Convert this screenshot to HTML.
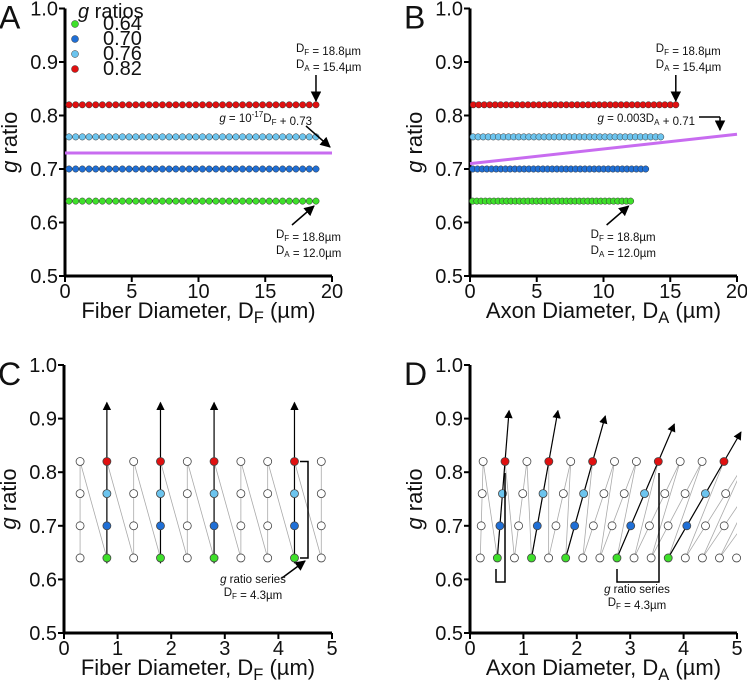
<!DOCTYPE html>
<html><head><meta charset="utf-8"><style>
body{margin:0;background:#fff;}
svg{display:block;font-family:"Liberation Sans",Arial,sans-serif;}
.tk{font-size:20px;fill:#111;}
.tt{font-size:22px;fill:#111;}
.an{font-size:11.5px;fill:#111;}
.pl{font-size:32px;fill:#111;}
</style></head><body>
<svg id="fig" width="747" height="680" viewBox="0 0 747 680">
<defs><marker id="ah" viewBox="0 0 10 10" refX="9" refY="5" markerWidth="7" markerHeight="7" orient="auto"><path d="M0,0L10,5L0,10z" fill="#000"/></marker></defs>
</svg>
<script>
const gRatios=[0.64,0.70,0.76,0.82];
const gColors=['#3ee02a','#1f6fd6','#6cc4ee','#e01010'];
const fiberDiams=[0.3,0.8,1.3,1.8,2.3,2.8,3.3,3.8,4.3,4.8,5.3,5.8,6.3,6.8,7.3,7.8,8.3,8.8,9.3,9.8,10.3,10.8,11.3,11.8,12.3,12.8,13.3,13.8,14.3,14.8,15.3,15.8,16.3,16.8,17.3,17.8,18.3,18.8];
const fitA=[0.73,0.73];
const fitB=[0.71,0.765];
const zoomDiamsC=[0.3,0.8,1.3,1.8,2.3,2.8,3.3,3.8,4.3,4.8];
const coloredC=[0.8,1.8,2.8,4.3];
const zoomDiamsD=[0.3,0.8,1.3,1.8,2.3,2.8,3.3,3.8,4.3,4.8,5.3,5.8,6.3,6.8,7.3,7.8];
const coloredD=[0.8,1.8,2.8,4.3,5.8];
const arrowEndD=[0.915,0.915,0.905,0.89,0.875];
const yTicks=[0.5,0.6,0.7,0.8,0.9,1.0];
const xTicksBig=[0,5,10,15,20];
const xTicksSmall=[0,1,2,3,4,5];

const svg=document.getElementById('fig');
const NS='http://www.w3.org/2000/svg';
function mk(tag,attrs,parent){const e=document.createElementNS(NS,tag);for(const k in attrs)e.setAttribute(k,attrs[k]);(parent||svg).appendChild(e);return e;}
function txt(x,y,s,cls,anchor,parent){const t=mk('text',{x:x,y:y,class:cls,'text-anchor':anchor||'start'},parent);t.innerHTML=s;return t;}

function panel(name,letter,x0,x1,y0,y1,xmax,xTicks,xTitle){
  const g=mk('g',{});
  
  
  const sx=v=>x0+(x1-x0)*v/xmax;
  const sy=v=>y0+(y1-y0)*(v-0.5)/0.5;
  const ax=mk('path',{d:`M${x0},${y1}V${y0}M${x0},${y0}H${x1}`,stroke:'#000','stroke-width':3,fill:'none'},g);
  
  
  yTicks.forEach(v=>{mk('line',{x1:x0-6,x2:x0,y1:sy(v),y2:sy(v),stroke:'#000','stroke-width':2},g);
    const t=txt(x0-7,sy(v)+7,v.toFixed(1),'tk','end',g);
    
    });
  xTicks.forEach(v=>{mk('line',{x1:sx(v),x2:sx(v),y1:y0,y2:y0+6,stroke:'#000','stroke-width':2},g);
    const t=txt(sx(v),y0+22,String(v),'tk','middle',g);
    
    });
  const xt=txt((x0+x1)/2,y0+42,xTitle,'tt','middle',g);
  
  
  const yt=txt(0,0,'<tspan font-style="italic">g</tspan> ratio','tt','middle',g);
  yt.setAttribute('transform',`translate(${x0-48},${(y0+y1)/2}) rotate(-90)`);
  
  
  const pl=txt(x0-66,y1+20,letter,'pl','start',g);
  
  
  return {g,sx,sy};
}
const sub=s=>`<tspan font-size="70%" dy="3">${s}</tspan><tspan dy="-3"></tspan>`;
const titleF='Fiber Diameter, D'+`<tspan font-size="75%" dy="5">F</tspan><tspan dy="-5"> (µm)</tspan>`;
const titleA='Axon Diameter, D'+`<tspan font-size="75%" dy="5">A</tspan><tspan dy="-5"> (µm)</tspan>`;

function arrow(p,x1,y1,x2,y2,w){const l=mk('line',{x1,y1,x2,y2,stroke:'#000','stroke-width':w||1.5,'marker-end':'url(#ah)'},p.g);return l;}

[['a','A',65,332,titleF,false,fitA],['b','B',470,737,titleA,true,fitB]].forEach(([n,L,x0,x1,tt,isAxon,fit])=>{
  const p=panel(n,L,x0,x1,276,8.5,20,xTicksBig,tt);
  const fl=mk('line',{x1:p.sx(0),y1:p.sy(fit[0]),x2:p.sx(20),y2:p.sy(fit[1]),stroke:'#c86cf0','stroke-width':3},p.g);
  
  
  gRatios.forEach((gr,i)=>{fiberDiams.forEach(d=>{
    const c=mk('circle',{cx:p.sx(isAxon?d*gr:d),cy:p.sy(gr),r:3.2,fill:gColors[i],stroke:'#333','stroke-width':0.5},p.g);
    
    });});
  const last=fiberDiams[fiberDiams.length-1];
  const xr=p.sx(isAxon?last*0.82:last), xg=p.sx(isAxon?last*0.64:last);
  txt(xr-20,52,'D'+sub('F')+' = 18.8µm','an','start',p.g);
  txt(xr-20,68,'D'+sub('A')+' = 15.4µm','an','start',p.g);
  arrow(p,xr,75,xr,101,1.5);
  arrow(p,xg-24,225,xg-2,206,1.5);
  txt(xg-40,238,'D'+sub('F')+' = 18.8µm','an','start',p.g);
  txt(xg-40,254,'D'+sub('A')+' = 12.0µm','an','start',p.g);
  if(!isAxon){
    txt(312,122,'<tspan font-style="italic">g</tspan> = 10<tspan font-size="70%" dy="-5">-17</tspan><tspan dy="5">D</tspan>'+sub('F')+' + 0.73','an','end',p.g);
    arrow(p,306,126,330,147,1.5);
  } else {
    txt(695,122,'<tspan font-style="italic">g</tspan> = 0.003D'+sub('A')+' + 0.71','an','end',p.g);
    mk('path',{d:'M699,117H720',stroke:'#000','stroke-width':1.5,fill:'none'},p.g);
    arrow(p,720,117,720,130,1.5);
  }
  if(!isAxon){
    const lg=mk('g',{},p.g);
    
    
    txt(78,18,'<tspan font-style="italic">g</tspan> ratios','tk','start',lg).setAttribute('font-size','15');
    gRatios.forEach((gr,i)=>{
      const c=mk('circle',{cx:75,cy:24+i*15,r:3.5,fill:gColors[i],stroke:'#333','stroke-width':0.5},lg);
      
      
      const t=txt(103,30+i*15,gr.toFixed(2),'tk','start',lg);t.setAttribute('font-size','17');});
  }
});

[['c','C',64,332,titleF,false,zoomDiamsC,coloredC],['d','D',470,737,titleA,true,zoomDiamsD,coloredD]].forEach(([n,L,x0,x1,tt,isAxon,diams,colored])=>{
  const p=panel(n,L,x0,x1,633,365,5,xTicksSmall,tt);
  const X=(d,gr)=>p.sx(isAxon?d*gr:d);
  let pts=[];
  diams.forEach(d=>gRatios.forEach(gr=>{pts.push([X(d,gr),p.sy(gr)]);}));
  const zz=mk('polyline',{points:pts.map(q=>q.join(',')).join(' '),fill:'none',stroke:'#aaa','stroke-width':0.8},p.g);
  
  
  const clip=mk('clipPath',{id:'clip'+n},p.g);
  mk('rect',{x:x0,y:300,width:x1-x0,height:340},clip);
  zz.setAttribute('clip-path',`url(#clip${n})`);
  colored.forEach((d,k)=>{
    if(!isAxon){arrow(p,X(d,0.64),p.sy(0.63),X(d,0.64),p.sy(0.93),1.2);}
    else{const e=arrowEndD[k];arrow(p,X(d,0.64),p.sy(0.64),p.sx(d*e),p.sy(e),1.2);}
  });
  diams.forEach(d=>gRatios.forEach((gr,i)=>{
    const x=X(d,gr); if(x>x1+2)return;
    const col=colored.includes(d);
    const c=mk('circle',{cx:x,cy:p.sy(gr),r:4,fill:col?gColors[i]:'#fff',stroke:'#444','stroke-width':0.8},p.g);
    
    
  }));
  if(!isAxon){
    mk('path',{d:`M300,${p.sy(0.82)}H308V${p.sy(0.64)}H300`,stroke:'#000','stroke-width':1.5,fill:'none'},p.g);
    arrow(p,282,578,305,561,1.5);
    txt(253,583,'<tspan font-style="italic">g</tspan> ratio series','an','middle',p.g);
    txt(253,596,'D'+sub('F')+' = 4.3µm','an','middle',p.g);
  } else {
    mk('path',{d:`M496,569V582H505V473`,stroke:'#000','stroke-width':1.5,fill:'none'},p.g);
    mk('path',{d:`M617,569V582H659V473`,stroke:'#000','stroke-width':1.5,fill:'none'},p.g);
    txt(637,593,'<tspan font-style="italic">g</tspan> ratio series','an','middle',p.g);
    txt(637,606,'D'+sub('F')+' = 4.3µm','an','middle',p.g);
  }
});
</script>
</body></html>
